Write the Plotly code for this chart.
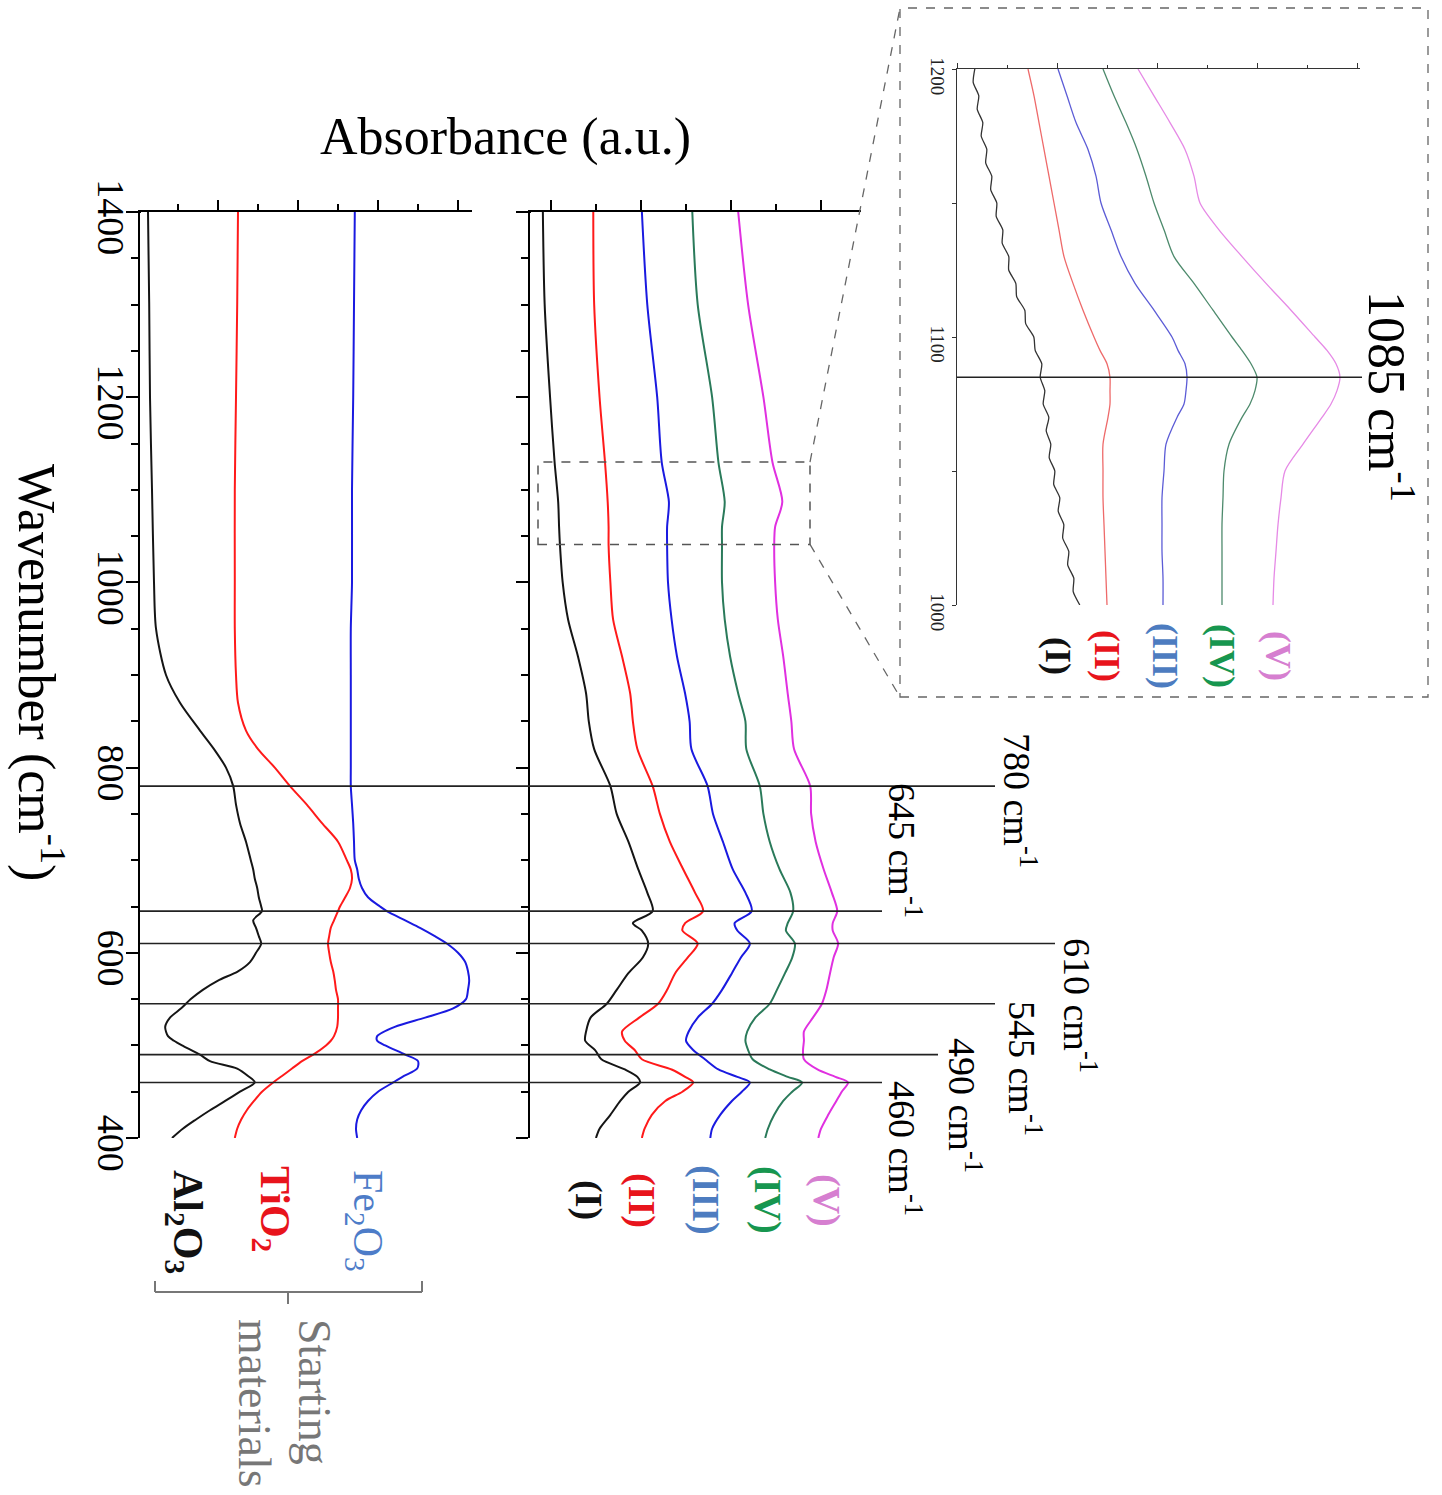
import plotly.graph_objects as go

W, H = 1442, 1495
SERIF = "Liberation Serif"


def px(x):
    return x / W


def py(y):
    return 1 - y / H


def ypix_main(wn):
    # pixel row of a wavenumber on the main panels (layout helper for connectors)
    return 212 + (1400 - wn) * 0.926


# ---------------- data ----------------
# Starting materials (bottom-left panel)
wn_start = [1400, 1300, 1200, 1100, 1000, 950, 900, 870, 840, 820, 800, 780, 760, 740, 720,
            700, 690, 680, 670, 660, 650, 645, 635, 627, 618, 610, 600, 590, 580, 570,
            560, 550, 540, 530, 520, 510, 505, 500, 490, 483, 475, 467, 460, 450, 440,
            430, 420, 410, 400]
al2o3 = [1.25, 1.4, 1.5, 1.75, 2.0, 2.25, 3.5, 5.25, 7.75, 9.5, 11.0, 11.9, 12.25, 12.75, 13.5,
         14.1, 14.4, 14.6, 14.9, 15.1, 15.4, 15.5, 14.4, 14.75, 15.1, 15.4, 14.75, 14.0, 12.5, 10.0,
         8.1, 6.6, 5.4, 4.0, 3.4, 3.75, 4.5, 5.5, 7.75, 9.0, 12.4, 13.75, 14.6, 12.75, 10.9,
         9.0, 7.25, 5.6, 4.25]
tio2 = [12.5, 12.4, 12.25, 12.1, 12.1, 12.1, 12.25, 12.5, 13.5, 15.0, 17.1, 19.0, 21.1, 23.0, 25.0,
        26.1, 26.6, 26.75, 26.5, 25.9, 25.25, 25.0, 24.5, 24.1, 23.9, 23.75, 23.9, 24.1, 24.4, 24.6,
        24.75, 25.0, 25.0, 25.0, 24.9, 24.5, 24.1, 23.5, 21.9, 20.5, 19.25, 18.0, 16.9, 15.5, 14.5,
        13.6, 12.9, 12.4, 12.1]
fe2o3 = [27.1, 27.0, 26.9, 26.75, 26.75, 26.6, 26.6, 26.6, 26.6, 26.6, 26.6, 26.6, 26.75, 26.9, 27.0,
         27.1, 27.4, 27.6, 28.0, 28.75, 30.25, 31.1, 33.4, 35.25, 37.1, 38.6, 40.0, 40.9, 41.25, 41.4,
         41.25, 41.0, 39.4, 35.9, 32.1, 29.9, 29.9, 30.9, 33.4, 35.0, 34.9, 33.25, 31.9, 30.0, 28.75,
         27.9, 27.4, 27.25, 27.4]

# Products (I)-(V) (right panel)
wn_prod = [1400, 1300, 1200, 1130, 1087, 1060, 1040, 1000, 960, 920, 880, 850, 820, 780, 750,
           720, 690, 665, 645, 632, 624, 610, 595, 578, 560, 545, 530, 515, 505, 495,
           485, 474, 466, 460, 450, 440, 425, 410, 400]
prod_I = [9.1, 9.3, 9.9, 10.4, 10.8, 10.9, 11.0, 11.3, 11.9, 13.0, 13.9, 14.2, 14.8, 16.6, 17.3,
          18.6, 19.7, 20.7, 21.3, 19.1, 20.1, 20.8, 20.2, 18.6, 17.3, 16.2, 14.4, 13.9, 13.8, 14.9,
          15.6, 18.2, 19.6, 19.9, 18.6, 17.7, 16.6, 15.4, 15.0]
prod_II = [14.7, 14.8, 15.4, 16.0, 16.3, 16.4, 16.4, 16.6, 16.9, 17.9, 18.8, 19.1, 19.6, 21.3, 22.1,
           23.2, 24.7, 26.0, 26.9, 24.9, 24.6, 26.3, 25.2, 23.8, 22.9, 21.9, 19.8, 17.9, 18.2, 19.3,
           20.1, 23.4, 24.9, 25.8, 24.6, 22.7, 21.2, 20.4, 20.1]
prod_III = [20.1, 20.7, 21.8, 22.3, 23.1, 22.9, 22.9, 23.0, 23.4, 24.0, 24.9, 25.4, 25.6, 27.4, 28.0,
            29.1, 30.2, 31.6, 32.3, 30.4, 30.7, 32.1, 31.1, 30.1, 29.0, 27.9, 26.3, 25.3, 25.0, 25.8,
            27.1, 28.6, 30.7, 32.1, 31.2, 30.1, 28.8, 27.9, 27.7]
prod_IV = [25.7, 26.3, 27.9, 28.6, 29.3, 29.0, 29.0, 29.0, 29.3, 29.9, 30.8, 31.6, 31.7, 33.2, 33.6,
           34.3, 35.4, 36.6, 36.9, 36.3, 36.1, 37.1, 36.8, 36.0, 35.1, 34.3, 32.7, 31.8, 31.6, 31.9,
           32.4, 34.3, 36.3, 37.9, 36.8, 35.8, 34.8, 34.1, 33.8]
prod_V = [30.8, 31.9, 33.6, 34.6, 35.7, 34.9, 34.8, 34.9, 35.2, 35.8, 36.3, 36.7, 37.0, 38.8, 38.9,
          39.4, 40.3, 41.2, 41.8, 41.3, 41.3, 41.9, 41.4, 41.0, 40.6, 40.1, 39.1, 38.1, 38.1, 38.0,
          38.1, 39.6, 41.6, 43.0, 42.3, 41.7, 40.8, 40.0, 39.7]

# Inset (1200-1000 cm-1)
wn_inset_I = [1200, 1195, 1190, 1185, 1180, 1175, 1170, 1165, 1160, 1155, 1150, 1145, 1140, 1135,
              1130, 1125, 1120, 1115, 1110, 1105, 1100, 1095, 1090, 1085, 1080, 1075, 1070, 1065,
              1060, 1055, 1050, 1045, 1040, 1035, 1030, 1025, 1020, 1015, 1010, 1005, 1000]
ins_I = [1.78, 1.62, 2.18, 2.02, 2.58, 2.42, 2.98, 2.87, 3.48, 3.37, 3.98, 3.92, 4.58, 4.52,
         5.18, 5.17, 5.88, 5.97, 6.78, 6.87, 7.68, 7.82, 8.48, 8.32, 8.78, 8.62, 9.18, 8.92,
         9.38, 9.22, 9.78, 9.67, 10.28, 10.12, 10.68, 10.57, 11.18, 11.07, 11.68, 11.62, 12.28]
wn_inset = [1200, 1190, 1180, 1170, 1160, 1150, 1140, 1130, 1120, 1110, 1100, 1095, 1090, 1085,
            1080, 1075, 1070, 1060, 1050, 1040, 1030, 1020, 1010, 1000]
ins_II = [7.1, 7.7, 8.2, 8.7, 9.2, 9.7, 10.2, 10.7, 11.6, 12.6, 13.7, 14.3, 15.0, 15.3,
          15.3, 15.3, 15.1, 14.6, 14.6, 14.6, 14.7, 14.8, 14.9, 15.0]
ins_III = [10.1, 11.0, 11.9, 13.1, 13.9, 14.4, 15.4, 16.4, 17.8, 19.7, 21.5, 22.1, 22.8, 23.0,
           22.9, 22.7, 22.0, 20.9, 20.7, 20.5, 20.5, 20.5, 20.6, 20.6]
ins_IV = [14.6, 15.7, 16.9, 18.0, 18.9, 19.7, 20.7, 21.7, 23.7, 25.6, 27.5, 28.5, 29.4, 30.0,
          29.8, 29.3, 28.5, 27.2, 26.7, 26.6, 26.5, 26.5, 26.5, 26.5]
ins_V = [18.1, 19.7, 21.3, 22.8, 23.7, 24.3, 26.2, 28.5, 30.9, 33.4, 35.8, 37.0, 37.9, 38.3,
         38.0, 37.4, 36.5, 34.6, 32.8, 32.4, 32.1, 31.9, 31.7, 31.6]

peak_wn = [780, 645, 610, 545, 490, 460]
peak_labels = ["780 cm<sup>-1</sup>", "645 cm<sup>-1</sup>", "610 cm<sup>-1</sup>",
               "545 cm<sup>-1</sup>", "490 cm<sup>-1</sup>", "460 cm<sup>-1</sup>"]
inset_peak = 1085
prod_names = ["(I)", "(II)", "(III)", "(IV)", "(V)"]
start_names = ["Al<sub>2</sub>O<sub>3</sub>", "TiO<sub>2</sub>", "Fe<sub>2</sub>O<sub>3</sub>"]

# ---------------- styles ----------------
main_cols = ["#151515", "#ff1a1a", "#1a1ae0", "#2a7a5a", "#e030e0"]
inset_cols = ["#333333", "#ee6a6a", "#5c5cd6", "#4d8a6c", "#e68ae6"]
label_cols = ["#111111", "#e8141c", "#4d7cc0", "#17964f", "#d67fd0"]
start_cols = ["#151515", "#ff1a1a", "#1a1ae0"]
start_label_cols = ["#111111", "#e8141c", "#4d7cc8"]

fig = go.Figure()

for vals, col in zip([al2o3, tio2, fe2o3], start_cols):
    fig.add_trace(go.Scatter(x=vals, y=wn_start, mode="lines", xaxis="x", yaxis="y",
                             line=dict(color=col, width=2, shape="spline", smoothing=0.8),
                             showlegend=False, hoverinfo="skip"))

for vals, col in zip([prod_I, prod_II, prod_III, prod_IV, prod_V], main_cols):
    fig.add_trace(go.Scatter(x=vals, y=wn_prod, mode="lines", xaxis="x2", yaxis="y2",
                             line=dict(color=col, width=2, shape="spline", smoothing=0.8),
                             showlegend=False, hoverinfo="skip"))

fig.add_trace(go.Scatter(x=ins_I, y=wn_inset_I, mode="lines", xaxis="x3", yaxis="y3",
                         line=dict(color=inset_cols[0], width=1.3, shape="spline", smoothing=0.6),
                         showlegend=False, hoverinfo="skip"))
for vals, col in zip([ins_II, ins_III, ins_IV, ins_V], inset_cols[1:]):
    fig.add_trace(go.Scatter(x=vals, y=wn_inset, mode="lines", xaxis="x3", yaxis="y3",
                             line=dict(color=col, width=1.3, shape="spline", smoothing=0.8),
                             showlegend=False, hoverinfo="skip"))

main_ydom = [py(1138), py(212)]
ycommon = dict(range=[400, 1400], showline=True, linecolor="black", linewidth=2,
               ticks="outside", ticklen=12, tickwidth=2, tickcolor="black",
               tick0=400, dtick=200, showgrid=False, zeroline=False, automargin=False,
               minor=dict(tick0=400, dtick=50, ticks="outside", ticklen=7, tickwidth=1.5,
                          tickcolor="black", showgrid=False))
xcommon = dict(side="top", showline=True, linecolor="black", linewidth=2,
               ticks="outside", ticklen=10, tickwidth=2, tickcolor="black",
               tick0=0, dtick=10, showticklabels=False, showgrid=False, zeroline=False,
               automargin=False,
               minor=dict(tick0=0, dtick=5, ticks="outside", ticklen=6, tickwidth=1.5,
                          tickcolor="black", showgrid=False))

fig.update_layout(
    width=W, height=H, margin=dict(l=0, r=0, t=0, b=0, pad=0, autoexpand=False),
    paper_bgcolor="white", plot_bgcolor="rgba(0,0,0,0)", showlegend=False,
    font=dict(family=SERIF, color="black"),
    xaxis=dict(domain=[px(140), px(472)], range=[0.25, 41.75], anchor="y", **xcommon),
    yaxis=dict(domain=main_ydom, anchor="x", tickangle=90, ticklabelstandoff=-18,
               ticklabelshift=11,
               tickfont=dict(family=SERIF, size=38, color="black"), **ycommon),
    xaxis2=dict(domain=[px(530), px(861)], range=[7.67, 44.44], anchor="y2", **xcommon),
    yaxis2=dict(domain=main_ydom, anchor="x2", showticklabels=False, **ycommon),
    xaxis3=dict(domain=[px(957), px(1360)], range=[0, 40.3], anchor="y3", side="top",
                showline=True, linecolor="#333", linewidth=1.2, ticks="outside", ticklen=5,
                tickwidth=1, tickcolor="#333", tick0=0, dtick=10, showticklabels=False,
                showgrid=False, zeroline=False, automargin=False,
                minor=dict(tick0=0, dtick=5, ticks="outside", ticklen=3, tickwidth=1,
                           tickcolor="#333", showgrid=False)),
    yaxis3=dict(domain=[py(605), py(69)], range=[1000, 1200], anchor="x3",
                showline=True, linecolor="#333", linewidth=1.2, ticks="outside", ticklen=4,
                tickwidth=1, tickcolor="#333", tick0=1000, dtick=100, tickangle=90,
                ticklabelshift=10, ticklabelstandoff=-2,
                tickfont=dict(family=SERIF, size=19, color="#222"),
                minor=dict(tick0=1000, dtick=50, ticks="outside", ticklen=4, tickwidth=1,
                           tickcolor="#333", showgrid=False),
                showgrid=False, zeroline=False, automargin=False),
)

shapes = []
line_end_px = [995, 882, 1055, 995, 938, 882]
for wn, xe in zip(peak_wn, line_end_px):
    shapes.append(dict(type="line", xref="paper", yref="y", x0=px(140), x1=px(xe),
                       y0=wn, y1=wn, line=dict(color="#222", width=1.6), layer="above"))
shapes.append(dict(type="line", xref="paper", yref="y3", x0=px(957), x1=px(1362),
                   y0=inset_peak, y1=inset_peak, line=dict(color="#222", width=1.4)))
# zoom box on product panel
shapes.append(dict(type="rect", xref="paper", yref="y2", x0=px(538), x1=px(810),
                   y0=1041, y1=1130, line=dict(color="#555", width=1.5, dash="dash")))
# connectors to inset
shapes.append(dict(type="line", xref="paper", yref="paper", x0=px(810), y0=py(ypix_main(1130)),
                   x1=px(900), y1=py(8), line=dict(color="#666", width=1.3, dash="dash")))
shapes.append(dict(type="line", xref="paper", yref="paper", x0=px(810), y0=py(ypix_main(1041)),
                   x1=px(900), y1=py(697), line=dict(color="#666", width=1.3, dash="dash")))
# inset frame
shapes.append(dict(type="rect", xref="paper", yref="paper", x0=px(900), x1=px(1428),
                   y0=py(697), y1=py(8), line=dict(color="#666", width=1.3, dash="dash")))
# horizontal axis overhang left of the vertical axes
shapes.append(dict(type="line", xref="paper", yref="paper", x0=px(129), x1=px(141),
                   y0=py(212), y1=py(212), line=dict(color="black", width=2)))
shapes.append(dict(type="line", xref="paper", yref="paper", x0=px(519), x1=px(531),
                   y0=py(212), y1=py(212), line=dict(color="black", width=2)))
# bracket "Starting materials"
br = "#777"
shapes += [
    dict(type="line", xref="paper", yref="paper", x0=px(155), x1=px(422), y0=py(1292), y1=py(1292),
         line=dict(color=br, width=2)),
    dict(type="line", xref="paper", yref="paper", x0=px(155), x1=px(155), y0=py(1292), y1=py(1281),
         line=dict(color=br, width=2)),
    dict(type="line", xref="paper", yref="paper", x0=px(422), x1=px(422), y0=py(1292), y1=py(1281),
         line=dict(color=br, width=2)),
    dict(type="line", xref="paper", yref="paper", x0=px(288), x1=px(288), y0=py(1292), y1=py(1304),
         line=dict(color=br, width=2)),
]
fig.update_layout(shapes=shapes)

ann = []


def add_text(text, x, y, size, color="black", angle=90, bold=False, align="center"):
    if bold:
        text = "<b>" + text + "</b>"
    ann.append(dict(text=text, x=px(x), y=py(y), xref="paper", yref="paper",
                    xanchor="center", yanchor="middle", showarrow=False, textangle=angle,
                    align=align, font=dict(family=SERIF, size=size, color=color)))


add_text("Absorbance (a.u.)", 505, 137, 52, angle=0)
add_text("Wavenumber (cm<sup>-1</sup>)", 40, 672, 52)

peak_label_pos = [(1020, 800), (905, 850), (1080, 1005), (1025, 1068), (965, 1105), (905, 1148)]
for t, (x, y) in zip(peak_labels, peak_label_pos):
    add_text(t, x, y, 38)
add_text("1085 cm<sup>-1</sup>", 1390, 396, 52)

prod_label_x = [589, 642, 706, 768, 827]
for t, x, c in zip(prod_names, prod_label_x, label_cols):
    add_text(t, x, 1200, 38, color=c, bold=True)

inset_label_x = [1058, 1107, 1165, 1222, 1278]
for t, x, c in zip(prod_names, inset_label_x, label_cols):
    add_text(t, x, 656, 36, color=c, bold=True)

start_pos = [(185, 1222), (272, 1209), (365, 1221)]
for t, (x, y), c, b in zip(start_names, start_pos, start_label_cols, [True, True, False]):
    add_text(t, x, y, 42, color=c, bold=b)

add_text("Starting<br>materials", 285, 1403, 46, color="#777", align="left")

fig.update_layout(annotations=ann)

fig.write_html("out.html", config={"displayModeBar": False},
               post_script="document.body.style.margin='0';")
